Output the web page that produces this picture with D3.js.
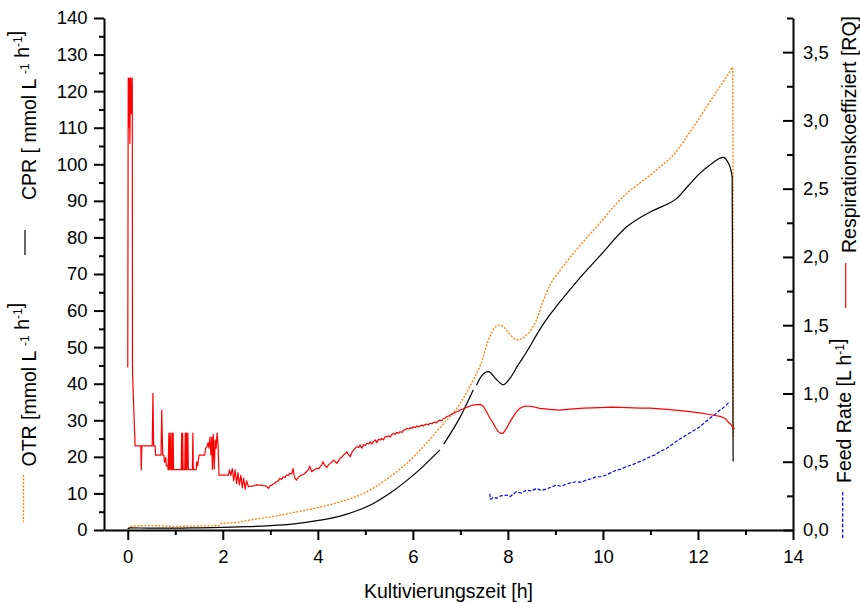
<!DOCTYPE html>
<html>
<head>
<meta charset="utf-8">
<script src="https://cdn.jsdelivr.net/npm/d3@7"></script>
<style>
  body { margin: 0; background: #fff; }
  svg { display: block; }
  text { font-family: "Liberation Sans", Arial, Helvetica, sans-serif; fill: #000; }
</style>
</head>
<body>
<svg id="chart" width="860" height="603"></svg>
<script>
// ---- Tick labels ----
const timeTicks = [0, 2, 4, 6, 8, 10, 12, 14];
const rateTicks = [0, 10, 20, 30, 40, 50, 60, 70, 80, 90, 100, 110, 120, 130, 140];
const rightTicks = [0, 0.5, 1.0, 1.5, 2.0, 2.5, 3.0, 3.5];

// ---- CPR [mmol L-1 h-1] : [time h, value]; null marks a gap in the record ----
const cprData = [
  [0.00, 0.3], [0.05, 0.6], [0.5, 0.5], [1.0, 0.5], [1.5, 0.6], [2.0, 0.7], [2.5, 0.9],
  [3.0, 1.2], [3.5, 1.7], [4.05, 2.7], [4.47, 3.8], [4.89, 5.6], [5.16, 7.2], [5.5, 9.9],
  [5.87, 13.5], [6.2, 17.2], [6.57, 21.9], null, [6.65, 23.5], [7.0, 31.0], [7.27, 38.3], null,
  [7.34, 39.6], [7.45, 42.2], [7.59, 43.3], [7.75, 41.3], [7.90, 39.7], [8.05, 41.6],
  [8.2, 44.8], [8.39, 48.6], [8.67, 54.8], [8.88, 58.8], [9.09, 62.3], [9.44, 67.8],
  [9.94, 75.0], [10.5, 82.9], [11.0, 87.0], [11.3, 88.8], [11.55, 90.6], [11.8, 94.2],
  [12.04, 97.5], [12.3, 100.3], [12.45, 101.6], [12.53, 101.9], [12.62, 100.8],
  [12.68, 99.0], [12.72, 96.5], [12.74, 18.7]
];

// ---- OTR [mmol L-1 h-1] ----
const otrData = [
  [0.00, 0.3], [0.05, 0.8], [0.1, 1.1], [0.5, 1.2], [1.0, 1.0], [1.5, 1.1], [1.92, 1.2],
  [1.95, 1.8], [2.3, 2.1], [2.6, 2.8], [3.0, 3.6], [3.5, 4.8], [4.05, 6.3], [4.47, 7.7],
  [4.89, 9.6], [5.16, 11.4], [5.5, 14.4], [5.87, 18.2], [6.2, 22.5], [6.57, 28.0],
  [6.99, 34.5], [7.27, 41.0], [7.41, 44.7], [7.62, 52.9], [7.72, 55.3], [7.80, 56.0],
  [7.88, 55.8], [7.97, 54.7], [8.08, 53.0], [8.18, 52.0], [8.30, 52.4], [8.39, 53.3],
  [8.50, 55.0], [8.60, 57.4], [8.74, 62.6], [8.88, 66.8], [9.1, 71.0], [9.4, 76.0],
  [9.7, 80.5], [9.94, 84.0], [10.2, 88.0], [10.46, 91.6], [10.75, 94.6], [10.99, 97.0],
  [11.25, 99.8], [11.48, 102.5], [11.6, 104.4], [11.76, 107.5], [12.0, 112.0],
  [12.18, 115.7], [12.45, 121.0], [12.67, 125.3], [12.73, 126.5], [12.745, 25.0]
];

// ---- Respiratory quotient RQ ----
const rqData = [
  [0.000, 1.19], [0.010, 3.31], [0.020, 2.95], [0.030, 3.31], [0.045, 2.83], [0.055, 3.31],
  [0.070, 3.05], [0.085, 3.31], [0.095, 3.31], [0.100, 1.15], [0.155, 0.616],
  [0.275, 0.616], [0.285, 0.44], [0.295, 0.616], [0.515, 0.616], [0.530, 1.00], [0.545, 0.616],
  [0.575, 0.616], [0.585, 0.549], [0.70, 0.549], [0.715, 0.879], [0.735, 0.549],
  [0.76, 0.549], [0.775, 0.496], [0.80, 0.53], [0.81, 0.47], [0.84, 0.47],
  [0.85, 0.442], [0.865, 0.71], [0.875, 0.442], [0.895, 0.71], [0.905, 0.442],
  [0.92, 0.442], [0.93, 0.71], [0.94, 0.442], [0.955, 0.71], [0.965, 0.442],
  [1.125, 0.442], [1.135, 0.71], [1.145, 0.442], [1.155, 0.71], [1.165, 0.442],
  [1.20, 0.442], [1.21, 0.71], [1.22, 0.442], [1.235, 0.71], [1.245, 0.442],
  [1.265, 0.71], [1.275, 0.442], [1.36, 0.442], [1.37, 0.71], [1.38, 0.442],
  [1.44, 0.442], [1.45, 0.50], [1.47, 0.47], [1.50, 0.549], [1.62, 0.549], [1.64, 0.60],
  [1.67, 0.611], [1.69, 0.64], [1.71, 0.60], [1.73, 0.68], [1.75, 0.55], [1.77, 0.68],
  [1.78, 0.445], [1.80, 0.70], [1.82, 0.445], [1.84, 0.66], [1.86, 0.60], [1.88, 0.71],
  [1.90, 0.62], [1.92, 0.402], [2.12, 0.402], [2.14, 0.44], [2.17, 0.40], [2.20, 0.45],
  [2.23, 0.36], [2.26, 0.44], [2.29, 0.34], [2.32, 0.42], [2.35, 0.33], [2.38, 0.40],
  [2.41, 0.31], [2.44, 0.38], [2.47, 0.30], [2.50, 0.36], [2.54, 0.317], [2.60, 0.322],
  [2.64, 0.322], [2.70, 0.33], [2.78, 0.329], [2.85, 0.325], [2.92, 0.322], [2.96, 0.305],
  [3.00, 0.325], [3.03, 0.329], [3.08, 0.34], [3.13, 0.354], [3.17, 0.36], [3.20, 0.378],
  [3.24, 0.37], [3.27, 0.390], [3.31, 0.385], [3.34, 0.403], [3.38, 0.40], [3.41, 0.415],
  [3.45, 0.41], [3.48, 0.452], [3.50, 0.40], [3.52, 0.378], [3.55, 0.366], [3.60, 0.39],
  [3.66, 0.403], [3.71, 0.41], [3.76, 0.427], [3.80, 0.44], [3.83, 0.468], [3.87, 0.427],
  [3.92, 0.44], [3.98, 0.452], [4.02, 0.45], [4.05, 0.464], [4.08, 0.475], [4.11, 0.500],
  [4.15, 0.47], [4.19, 0.459], [4.23, 0.48], [4.26, 0.488], [4.30, 0.50], [4.33, 0.512],
  [4.37, 0.50], [4.40, 0.488], [4.44, 0.51], [4.47, 0.525], [4.51, 0.535], [4.54, 0.549],
  [4.58, 0.56], [4.61, 0.573], [4.65, 0.55], [4.68, 0.537], [4.72, 0.57], [4.75, 0.586],
  [4.79, 0.60], [4.82, 0.610], [4.86, 0.605], [4.89, 0.622], [4.93, 0.60], [4.96, 0.625],
  [5.00, 0.62], [5.03, 0.635], [5.07, 0.63], [5.10, 0.645], [5.14, 0.63], [5.17, 0.647],
  [5.21, 0.66], [5.24, 0.64], [5.28, 0.665], [5.31, 0.659], [5.35, 0.67], [5.38, 0.66],
  [5.42, 0.685], [5.45, 0.683], [5.49, 0.69], [5.52, 0.68], [5.56, 0.70], [5.59, 0.708],
  [5.63, 0.70], [5.66, 0.715], [5.70, 0.71], [5.73, 0.720], [5.77, 0.715], [5.80, 0.73],
  [5.84, 0.735], [5.87, 0.744], [5.91, 0.74], [5.94, 0.75], [5.98, 0.745], [6.01, 0.756],
  [6.05, 0.75], [6.08, 0.762], [6.12, 0.755], [6.15, 0.761], [6.19, 0.768], [6.22, 0.762],
  [6.26, 0.772], [6.29, 0.776], [6.33, 0.77], [6.36, 0.782], [6.40, 0.778], [6.43, 0.786],
  [6.47, 0.79], [6.50, 0.785], [6.54, 0.80], [6.57, 0.805], [6.61, 0.80], [6.64, 0.815],
  [6.68, 0.82], [6.71, 0.830], [6.75, 0.835], [6.78, 0.84], [6.82, 0.848], [6.85, 0.854],
  [6.90, 0.862], [6.95, 0.870], [6.99, 0.878], [7.05, 0.886], [7.13, 0.898], [7.20, 0.908],
  [7.27, 0.915], [7.34, 0.918], [7.41, 0.920], [7.48, 0.908], [7.55, 0.866], [7.62, 0.82],
  [7.69, 0.781], [7.75, 0.745], [7.80, 0.720], [7.85, 0.708], [7.90, 0.708], [7.97, 0.744],
  [8.04, 0.79], [8.11, 0.830], [8.18, 0.865], [8.25, 0.891], [8.32, 0.903], [8.39, 0.908],
  [8.53, 0.903], [8.67, 0.891], [8.88, 0.883], [9.09, 0.878], [9.3, 0.885], [9.6, 0.892],
  [9.94, 0.897], [10.2, 0.90], [10.5, 0.896], [10.78, 0.892], [10.99, 0.892], [11.35, 0.884],
  [11.69, 0.873], [12.0, 0.86], [12.25, 0.846], [12.49, 0.830], [12.58, 0.815],
  [12.63, 0.793], [12.70, 0.77], [12.77, 0.737]
];

// ---- Feed rate [L h-1] ----
const feedData = [
  [7.62, 0.265], [7.63, 0.225], [7.70, 0.24], [7.76, 0.232], [7.85, 0.25], [7.97, 0.256],
  [8.05, 0.245], [8.18, 0.281], [8.28, 0.27], [8.39, 0.293], [8.50, 0.285], [8.60, 0.305],
  [8.70, 0.29], [8.81, 0.30], [8.92, 0.315], [9.02, 0.329], [9.12, 0.32], [9.23, 0.337],
  [9.33, 0.345], [9.44, 0.354], [9.55, 0.35], [9.65, 0.366], [9.75, 0.375], [9.86, 0.39],
  [9.96, 0.39], [10.07, 0.403], [10.17, 0.42], [10.28, 0.439], [10.38, 0.445], [10.49, 0.464],
  [10.6, 0.475], [10.7, 0.49], [10.8, 0.505], [10.9, 0.52], [10.99, 0.537], [11.1, 0.55],
  [11.2, 0.575], [11.34, 0.598], [11.45, 0.625], [11.57, 0.655], [11.69, 0.683], [11.8, 0.705],
  [11.92, 0.73], [12.04, 0.756], [12.15, 0.79], [12.25, 0.818], [12.35, 0.845], [12.46, 0.878],
  [12.55, 0.9], [12.63, 0.927], [12.64, 0.905]
];

const svg = d3.select("#chart");
const plotLeft = 104, plotRight = 793, plotTop = 18, plotBottom = 530;

const x = d3.scaleLinear().domain([-0.5, 14]).range([plotLeft, plotRight]);
const yL = d3.scaleLinear().domain([0, 140]).range([plotBottom, plotTop]);
const yR = d3.scaleLinear().domain([0, 3.75]).range([plotBottom, plotTop]);

const tickFont = "18.5px";
const titleFont = 19.5;

function styleAxis(g) {
  g.select(".domain").attr("stroke", "#000").attr("stroke-width", 2);
  g.selectAll(".tick line").attr("stroke", "#000").attr("stroke-width", 2);
  g.selectAll(".tick text").attr("font-size", tickFont).attr("fill", "#000")
    .attr("font-family", '"Liberation Sans", Arial, sans-serif');
}

// minor ticks
svg.append("g").attr("transform", `translate(0,${plotBottom})`)
  .call(d3.axisBottom(x).tickValues(d3.range(1, 14, 2)).tickSize(5).tickFormat(""))
  .call(g => { g.select(".domain").remove(); g.selectAll("line").attr("stroke-width", 2); });
svg.append("g").attr("transform", `translate(${plotLeft},0)`)
  .call(d3.axisLeft(yL).tickValues(d3.range(5, 140, 10)).tickSize(5).tickFormat(""))
  .call(g => { g.select(".domain").remove(); g.selectAll("line").attr("stroke-width", 2); });
svg.append("g").attr("transform", `translate(${plotRight},0)`)
  .call(d3.axisRight(yR).tickValues(d3.range(0.25, 3.8, 0.5)).tickSize(-6).tickFormat(""))
  .call(g => { g.select(".domain").remove(); g.selectAll("line").attr("stroke-width", 2); });

// major axes
svg.append("g").attr("transform", `translate(0,${plotBottom})`)
  .call(d3.axisBottom(x).tickValues(timeTicks).tickSize(10).tickSizeOuter(0).tickPadding(9.5))
  .call(styleAxis);
svg.append("g").attr("transform", `translate(${plotLeft},0)`)
  .call(d3.axisLeft(yL).tickValues(rateTicks).tickSize(10).tickSizeOuter(0).tickPadding(6.5))
  .call(styleAxis);
svg.append("g").attr("transform", `translate(${plotRight},0)`)
  .call(d3.axisRight(yR).tickValues(rightTicks).tickSize(-10).tickSizeOuter(0).tickPadding(10)
    .tickFormat(d => d3.format(".1f")(d).replace(".", ",")))
  .call(styleAxis);

// series: smooth gas-rate curves, raw RQ and feed signals
const lineL = d3.line().defined(d => d !== null).curve(d3.curveMonotoneX)
  .x(d => x(d[0])).y(d => yL(d[1]));
const lineR = d3.line().defined(d => d !== null).x(d => x(d[0])).y(d => yR(d[1]));

svg.append("path").datum(otrData).attr("d", lineL)
  .attr("fill", "none").attr("stroke", "#ff8000").attr("stroke-width", 1.3)
  .attr("stroke-dasharray", "2,1.5");
svg.append("path").datum(cprData).attr("d", lineL)
  .attr("fill", "none").attr("stroke", "#000").attr("stroke-width", 1.2);
svg.append("path").datum(rqData).attr("d", lineR)
  .attr("fill", "none").attr("stroke", "#ff0000").attr("stroke-width", 1.2)
  .attr("stroke-linejoin", "round");
svg.append("path").datum(feedData).attr("d", lineR)
  .attr("fill", "none").attr("stroke", "#0000ff").attr("stroke-width", 1.2)
  .attr("stroke-dasharray", "3.5,1.8");

// axis titles with their legend keys
function unitTitle(g, parts) {
  const t = g.append("text").attr("font-size", titleFont);
  parts.forEach(p => {
    if (p.sup) {
      t.append("tspan").attr("font-size", 12).attr("dy", -7).text(p.sup);
      t.append("tspan").attr("font-size", titleFont).attr("dy", 7).text("");
    } else {
      t.append("tspan").text(p.t);
    }
  });
  return t;
}

// CPR (left, upper)
svg.append("line").attr("x1", 25).attr("x2", 25).attr("y1", 230).attr("y2", 255)
  .attr("stroke", "#000").attr("stroke-width", 1.2);
unitTitle(svg.append("g").attr("transform", "translate(35.5,200) rotate(-90)"),
  [{t: "CPR [ mmol L "}, {sup: "-1"}, {t: " h"}, {sup: "-1"}, {t: "]"}]);

// OTR (left, lower)
svg.append("line").attr("x1", 23.5).attr("x2", 23.5).attr("y1", 475).attr("y2", 522)
  .attr("stroke", "#ff8000").attr("stroke-width", 1.3).attr("stroke-dasharray", "2,1.5");
unitTitle(svg.append("g").attr("transform", "translate(35.5,466.5) rotate(-90)"),
  [{t: "OTR [mmol L "}, {sup: "-1"}, {t: " h"}, {sup: "-1"}, {t: "]"}]);

// RQ (right, upper)
svg.append("line").attr("x1", 845.7).attr("x2", 845.7).attr("y1", 263).attr("y2", 308)
  .attr("stroke", "#ff0000").attr("stroke-width", 1.2);
unitTitle(svg.append("g").attr("transform", "translate(855.5,253) rotate(-90)"),
  [{t: "Respirationskoeffiziert [RQ]"}]);

// Feed rate (right, lower)
svg.append("line").attr("x1", 842.7).attr("x2", 842.7).attr("y1", 492).attr("y2", 538)
  .attr("stroke", "#0000ff").attr("stroke-width", 1.2).attr("stroke-dasharray", "3.5,1.8");
unitTitle(svg.append("g").attr("transform", "translate(850.7,483) rotate(-90)"),
  [{t: "Feed Rate [L h"}, {sup: "-1"}, {t: "]"}]);

// x title
svg.append("text").attr("x", 448.5).attr("y", 598).attr("text-anchor", "middle")
  .attr("font-size", titleFont).text("Kultivierungszeit [h]");
</script>
</body>
</html>
